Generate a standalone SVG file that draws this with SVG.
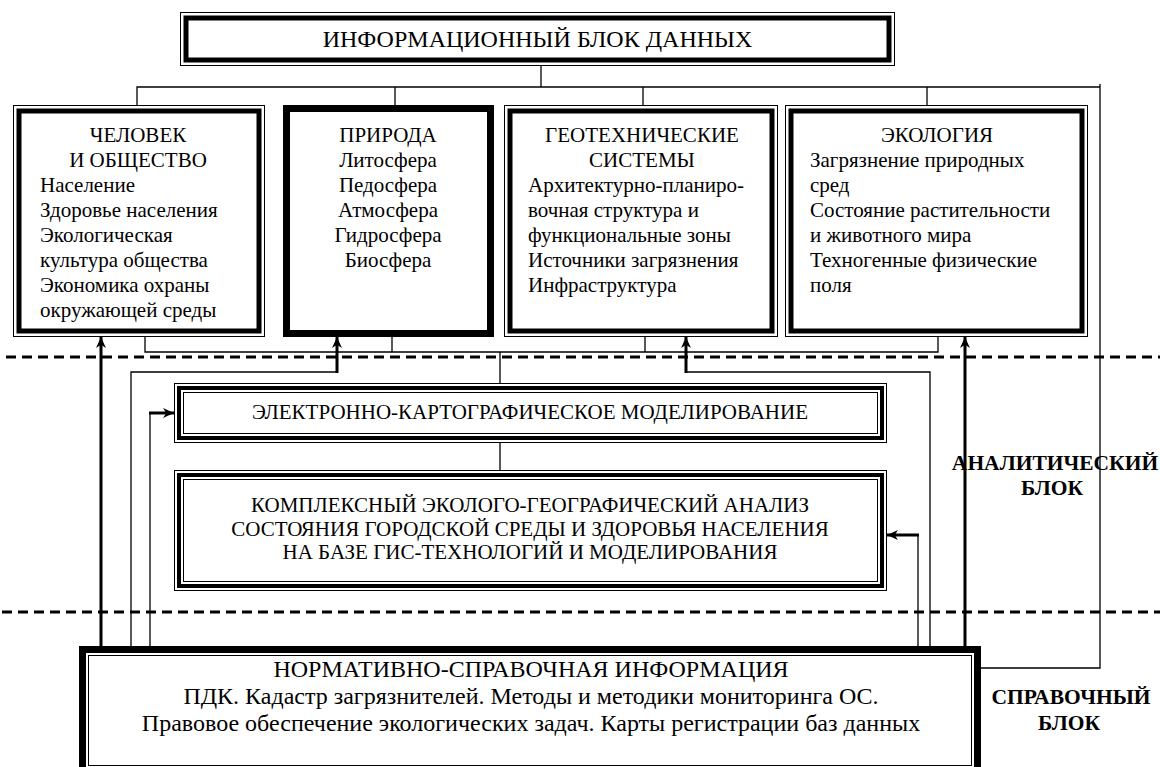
<svg xmlns="http://www.w3.org/2000/svg" width="1160" height="767" viewBox="0 0 1160 767">
  <defs>
    <style>
      .bg { fill: #ffffff; }
      .thin { fill: none; stroke: #000; stroke-width: 1; }
      .thk { fill: none; stroke: #000; stroke-width: 5; }
      .thk4 { fill: none; stroke: #000; stroke-width: 4; }
      .thk7 { fill: none; stroke: #000; stroke-width: 7; }
      .t { font-family: "Liberation Serif", "Times New Roman", "DejaVu Serif", serif; fill: #000; font-size: 21px; }
      .big { font-size: 24px; }
      .lbl { font-family: "Liberation Serif", "Times New Roman", "DejaVu Serif", serif; font-weight: bold; font-size: 21.5px; fill: #000; text-anchor: middle; }
      .c { text-anchor: middle; }
      .ln { fill: none; stroke: #000; stroke-width: 1.3; }
      .lt { fill: none; stroke: #000; stroke-width: 3; }
      .dash { fill: none; stroke: #000; stroke-width: 3; stroke-dasharray: 10 6; }
    </style>
    <marker id="ah" viewBox="0 0 10 10" refX="10" refY="5" markerWidth="11" markerHeight="11" orient="auto" markerUnits="userSpaceOnUse">
      <path d="M0,0.5 L10,5 L0,9.5 L3,5 z" fill="#000"/>
    </marker>
  </defs>

  <rect class="bg" x="0" y="0" width="1160" height="767"/>

  <!-- block separators -->
  <g id="separators">
    <path class="dash" d="M6,357 H1160"/>
    <path class="dash" d="M2,612 H1160"/>
  </g>

  <!-- connectors -->
  <g id="connectors">
    <!-- top distribution -->
    <path class="ln" d="M541,66 V87"/>
    <path class="ln" d="M137,105 V87 H1100"/>
    <path class="ln" d="M395,87 V105 M643,87 V105 M927,87 V105"/>
    <path class="ln" d="M1100,84 V668 H981"/>
    <!-- bottom collector -->
    <path class="ln" d="M145,337 V352 H938 V337"/>
    <path class="ln" d="M392,337 V352 M645,337 V352"/>
    <path class="ln" d="M500,352 V383 M500,443 V470"/>
    <!-- feeds from the reference block -->
    <path class="lt" d="M101,646 V337" marker-end="url(#ah)"/>
    <path class="ln" d="M131,646 V372 H337"/>
    <path class="lt" d="M337,373 V337" marker-end="url(#ah)"/>
    <path class="ln" d="M150,646 V413"/>
    <path class="lt" d="M149,413 H174" marker-end="url(#ah)"/>
    <path class="ln" d="M918,646 V535"/>
    <path class="lt" d="M919,535 H887" marker-end="url(#ah)"/>
    <path class="ln" d="M930,646 V372 H686"/>
    <path class="lt" d="M686,373 V337" marker-end="url(#ah)"/>
    <path class="lt" d="M965,646 V337" marker-end="url(#ah)"/>
  </g>

  <!-- information block -->
  <g id="n-info">
    <rect class="bg" x="180" y="12" width="715" height="54"/>
    <rect class="thin" x="180.5" y="12.5" width="714" height="53"/>
    <rect class="thk" x="186" y="18" width="703" height="42"/>
    <text class="t big c" x="537.5" y="47">ИНФОРМАЦИОННЫЙ БЛОК ДАННЫХ</text>
  </g>

  <g id="n-society">
    <rect class="thin" x="13.5" y="105.5" width="251" height="231"/>
    <rect class="thk" x="19" y="111" width="240" height="220"/>
    <text class="t c" x="138" y="142">ЧЕЛОВЕК</text>
    <text class="t c" x="138" y="167">И ОБЩЕСТВО</text>
    <text class="t" x="40" y="192">Население</text>
    <text class="t" x="40" y="217">Здоровье населения</text>
    <text class="t" x="40" y="242">Экологическая</text>
    <text class="t" x="40" y="267">культура общества</text>
    <text class="t" x="40" y="292">Экономика охраны</text>
    <text class="t" x="40" y="317">окружающей среды</text>
  </g>

  <g id="n-nature">
    <rect class="thk7" x="286.5" y="108.5" width="204" height="225"/>
    <text class="t c" x="388" y="142">ПРИРОДА</text>
    <text class="t c" x="388" y="167">Литосфера</text>
    <text class="t c" x="388" y="192">Педосфера</text>
    <text class="t c" x="388" y="217">Атмосфера</text>
    <text class="t c" x="388" y="242">Гидросфера</text>
    <text class="t c" x="388" y="267">Биосфера</text>
  </g>

  <g id="n-geotech">
    <rect class="thin" x="504.5" y="105.5" width="273" height="231"/>
    <rect class="thk" x="510" y="111" width="262" height="220"/>
    <text class="t c" x="642" y="142">ГЕОТЕХНИЧЕСКИЕ</text>
    <text class="t c" x="642" y="167">СИСТЕМЫ</text>
    <text class="t" x="528" y="192">Архитектурно-планиро-</text>
    <text class="t" x="528" y="217">вочная структура и</text>
    <text class="t" x="528" y="242">функциональные зоны</text>
    <text class="t" x="528" y="267">Источники загрязнения</text>
    <text class="t" x="528" y="292">Инфраструктура</text>
  </g>

  <g id="n-ecology">
    <rect class="thin" x="785.5" y="105.5" width="302" height="231"/>
    <rect class="thk" x="791" y="111" width="291" height="220"/>
    <text class="t c" x="937" y="142">ЭКОЛОГИЯ</text>
    <text class="t" x="810" y="167">Загрязнение природных</text>
    <text class="t" x="810" y="192">сред</text>
    <text class="t" x="810" y="217">Состояние растительности</text>
    <text class="t" x="810" y="242">и животного мира</text>
    <text class="t" x="810" y="267">Техногенные физические</text>
    <text class="t" x="810" y="292">поля</text>
  </g>

  <g id="n-modelling">
    <rect class="thin" x="174.5" y="383.5" width="712" height="59"/>
    <rect class="thk4" x="179" y="388" width="703" height="50"/>
    <rect class="thin" x="183.5" y="392.5" width="694" height="41"/>
    <text class="t c" x="530" y="419">ЭЛЕКТРОННО-КАРТОГРАФИЧЕСКОЕ МОДЕЛИРОВАНИЕ</text>
  </g>

  <g id="n-analysis">
    <rect class="thin" x="174.5" y="470.5" width="712" height="120"/>
    <rect class="thk4" x="179" y="475" width="703" height="111"/>
    <rect class="thin" x="183.5" y="479.5" width="694" height="102"/>
    <text class="t c" x="530" y="512">КОМПЛЕКСНЫЙ ЭКОЛОГО-ГЕОГРАФИЧЕСКИЙ АНАЛИЗ</text>
    <text class="t c" x="530" y="536">СОСТОЯНИЯ ГОРОДСКОЙ СРЕДЫ И ЗДОРОВЬЯ НАСЕЛЕНИЯ</text>
    <text class="t c" x="530" y="559">НА БАЗЕ ГИС-ТЕХНОЛОГИЙ И МОДЕЛИРОВАНИЯ</text>
  </g>

  <g id="n-reference">
    <rect class="bg" x="79" y="646" width="902" height="130"/>
    <rect class="thk7" x="82.5" y="649.5" width="895" height="130"/>
    <rect class="thin" x="88.5" y="655.5" width="883" height="110"/>
    <text class="t big c" x="531" y="677">НОРМАТИВНО-СПРАВОЧНАЯ ИНФОРМАЦИЯ</text>
    <text class="t big c" x="531" y="704">ПДК. Кадастр загрязнителей. Методы и методики мониторинга ОС.</text>
    <text class="t big c" x="531" y="731">Правовое обеспечение экологических задач. Карты регистрации баз данных</text>
  </g>

  <g id="block-labels">
    <text class="lbl" x="1055" y="470">АНАЛИТИЧЕСКИЙ</text>
    <text class="lbl" x="1052" y="495">БЛОК</text>
    <text class="lbl" x="1071" y="704">СПРАВОЧНЫЙ</text>
    <text class="lbl" x="1069" y="730">БЛОК</text>
  </g>
</svg>
